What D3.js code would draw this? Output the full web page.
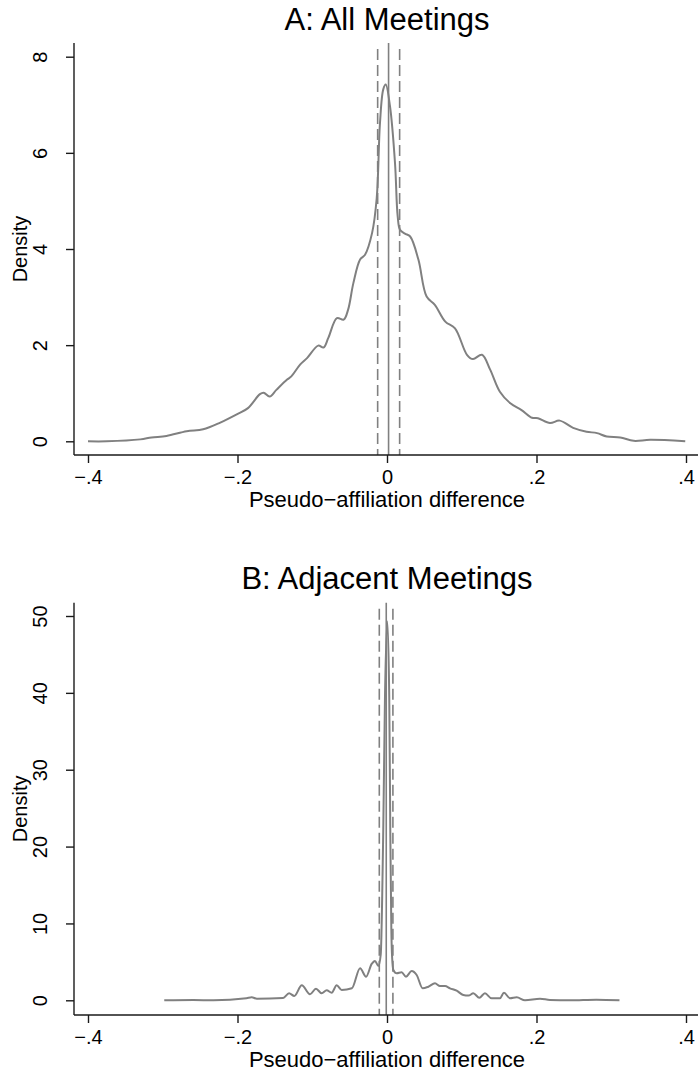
<!DOCTYPE html>
<html>
<head>
<meta charset="utf-8">
<script src="https://cdn.jsdelivr.net/npm/d3@7"></script>
<style>
  body { margin: 0; background: #fff; }
  svg text { font-family: "Liberation Sans", Arial, Helvetica, sans-serif; fill: #000; }
</style>
</head>
<body>
<div id="chart"></div>
<script>
// x ticks shared by both panels
const xTicks = [-0.4, -0.2, 0, 0.2, 0.4];
const xTickLabels = ["\u2212.4", "\u2212.2", "0", ".2", ".4"];

// panel A: all meetings (kernel density)
const densA_x = [-0.400, -0.375, -0.330, -0.315, -0.295, -0.268, -0.246, -0.223, -0.201, -0.186,
  -0.170, -0.165, -0.157, -0.148, -0.134, -0.128, -0.116, -0.107, -0.092, -0.085,
  -0.0785, -0.067, -0.058, -0.052, -0.045, -0.036, -0.0294, -0.020, -0.0138, -0.0094,
  -0.005, -0.0017, 0.004, 0.0107, 0.0143, 0.0174, 0.024, 0.031, 0.042, 0.053,
  0.064, 0.078, 0.091, 0.107, 0.115, 0.127, 0.138, 0.151, 0.165, 0.180,
  0.194, 0.202, 0.218, 0.231, 0.249, 0.267, 0.281, 0.294, 0.312, 0.330, 0.352, 0.399];
const densA_y = [0.00, 0.00, 0.04, 0.08, 0.11, 0.21, 0.25, 0.39, 0.56, 0.69,
  0.98, 1.01, 0.93, 1.07, 1.28, 1.35, 1.60, 1.73, 1.99, 1.95,
  2.15, 2.56, 2.53, 2.74, 3.29, 3.78, 3.88, 4.33, 5.05, 6.62,
  7.32, 7.42, 6.97, 5.79, 4.68, 4.40, 4.32, 4.26, 3.78, 3.01,
  2.84, 2.49, 2.35, 1.80, 1.71, 1.80, 1.49, 1.03, 0.79, 0.65,
  0.49, 0.48, 0.38, 0.43, 0.28, 0.20, 0.17, 0.10, 0.08, 0.01, 0.03, 0.00];
const yTicksA = [0, 2, 4, 6, 8];
const solidA = [0.0021];
const dashedA = [-0.0125, 0.0169];

// panel B: adjacent meetings
const densB_x = [-0.298, -0.259, -0.232, -0.188, -0.181, -0.174, -0.139, -0.131, -0.124, -0.114,
  -0.103, -0.095, -0.0874, -0.0807, -0.074, -0.0673, -0.0606, -0.047, -0.036, -0.028,
  -0.0205, -0.0161, -0.0116, -0.0084, -0.005, -0.0027, 0.0004, 0.003, 0.0044, 0.0058,
  0.0068, 0.0085, 0.013, 0.0196, 0.0254, 0.033, 0.0397, 0.0477, 0.0553, 0.0642,
  0.0709, 0.0776, 0.0843, 0.0932, 0.102, 0.109, 0.1155, 0.1235, 0.131, 0.140,
  0.151, 0.1565, 0.1645, 0.1735, 0.1846, 0.2047, 0.218, 0.245, 0.280, 0.311];
const densB_y = [0.00, 0.04, 0.00, 0.26, 0.39, 0.21, 0.30, 0.91, 0.56, 1.95,
  0.78, 1.51, 0.91, 1.30, 0.99, 1.95, 1.34, 1.56, 4.17, 3.07,
  4.73, 5.12, 4.47, 5.94, 22.2, 39.5, 49.3, 39.5, 22.2, 9.2,
  5.7, 3.94, 3.51, 3.64, 3.07, 3.81, 3.29, 1.56, 1.77, 2.21,
  1.86, 1.86, 1.56, 1.25, 0.69, 0.61, 0.91, 0.34, 0.91, 0.26,
  0.26, 0.99, 0.26, 0.39, 0.00, 0.21, 0.04, 0.00, 0.08, 0.00];
const yTicksB = [0, 10, 20, 30, 40, 50];
const solidB = [-0.001];
const dashedB = [-0.0103, 0.0079];

const W = 698, H = 1073;
const lineGrey = "#808080";
const axisCol = "#1a1a1a";

var svg = d3.select("#chart").append("svg")
  .attr("width", W)
  .attr("height", H);

var x = d3.scaleLinear().domain([-0.4, 0.4]).range([88, 686]);

function drawPanel(opt) {
  var y = d3.scaleLinear().domain([0, opt.yTicks[opt.yTicks.length - 1]]).range([opt.y0, opt.yTop]);
  var g = svg.append("g");

  // title
  g.append("text")
    .attr("x", 387)
    .attr("y", opt.titleY)
    .attr("text-anchor", "middle")
    .style("font-size", "31px")
    .text(opt.title);

  // reference lines (solid = estimate, dashed = bounds)
  g.selectAll(".solid").data(opt.solid).enter().append("line")
    .attr("x1", d => x(d)).attr("x2", d => x(d))
    .attr("y1", opt.plotTop).attr("y2", opt.axisY)
    .attr("stroke", lineGrey).attr("stroke-width", 1.6);
  g.selectAll(".dashed").data(opt.dashed).enter().append("line")
    .attr("x1", d => x(d)).attr("x2", d => x(d))
    .attr("y1", opt.plotTop + 6).attr("y2", opt.axisY)
    .attr("stroke", lineGrey).attr("stroke-width", 1.6)
    .attr("stroke-dasharray", "11,5");

  // density curve
  var pts = opt.xs.map((v, i) => [v, opt.ys[i]]);
  var valueLine = d3.line()
    .x(d => x(d[0]))
    .y(d => y(d[1]))
    .curve(opt.curve);
  g.append("path")
    .datum(pts)
    .attr("fill", "none")
    .attr("stroke", lineGrey)
    .attr("stroke-width", 2)
    .attr("stroke-linejoin", "round")
    .attr("d", valueLine);

  // x-axis
  var xa = g.append("g")
    .attr("transform", `translate(0, ${opt.axisY})`)
    .call(d3.axisBottom(x).tickValues(xTicks).tickSize(8).tickPadding(7)
      .tickFormat((d, i) => xTickLabels[i]));
  xa.select(".domain").remove();
  xa.selectAll(".tick line").attr("stroke", axisCol).attr("stroke-width", 1.4);
  xa.selectAll(".tick text").style("font-size", "20px").attr("fill", "#000");
  g.append("line")
    .attr("x1", 74).attr("x2", W)
    .attr("y1", opt.axisY).attr("y2", opt.axisY)
    .attr("stroke", axisCol).attr("stroke-width", 1.4);

  // y-axis with rotated tick labels
  var ya = g.append("g")
    .attr("transform", "translate(74, 0)")
    .call(d3.axisLeft(y).tickValues(opt.yTicks).tickSize(8));
  ya.select(".domain").remove();
  ya.selectAll(".tick line").attr("stroke", axisCol).attr("stroke-width", 1.4);
  ya.selectAll(".tick text")
    .attr("transform", "rotate(-90)")
    .attr("x", 0).attr("y", -27).attr("dy", null)
    .attr("text-anchor", "middle")
    .attr("fill", "#000")
    .style("font-size", "20px");
  g.append("line")
    .attr("x1", 74).attr("x2", 74)
    .attr("y1", opt.plotTop).attr("y2", opt.axisY)
    .attr("stroke", axisCol).attr("stroke-width", 1.4);

  // axis titles
  g.append("text")
    .attr("x", 387).attr("y", opt.axisY + 52)
    .attr("text-anchor", "middle")
    .style("font-size", "22px")
    .text("Pseudo\u2212affiliation difference");
  g.append("text")
    .attr("transform", `translate(27, ${(opt.plotTop + opt.axisY) / 2}) rotate(-90)`)
    .attr("text-anchor", "middle")
    .style("font-size", "20px")
    .text("Density");
}

drawPanel({
  title: "A: All Meetings", titleY: 30,
  xs: densA_x, ys: densA_y, yTicks: yTicksA,
  y0: 441.3, yTop: 56.7, plotTop: 43, axisY: 455,
  solid: solidA, dashed: dashedA,
  curve: d3.curveCatmullRom.alpha(0.5)
});

drawPanel({
  title: "B: Adjacent Meetings", titleY: 589,
  xs: densB_x, ys: densB_y, yTicks: yTicksB,
  y0: 1000.3, yTop: 616, plotTop: 602.7, axisY: 1015,
  solid: solidB, dashed: dashedB,
  curve: d3.curveMonotoneX
});
</script>
</body>
</html>
